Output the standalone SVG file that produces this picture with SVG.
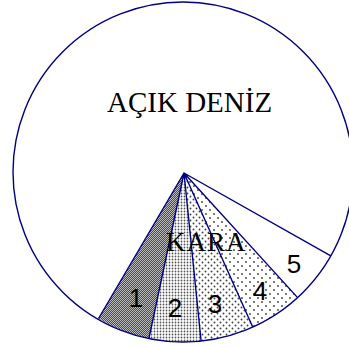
<svg xmlns="http://www.w3.org/2000/svg" width="349" height="347" viewBox="0 0 349 347">
<style>
.ln{stroke:#000080;stroke-width:1.4;fill:none;stroke-linejoin:round}
.ser{font-family:"Liberation Serif","Times New Roman",serif;fill:#000}
.num{font-family:"Liberation Sans",Arial,sans-serif;font-size:26px;fill:#000;text-anchor:middle}
</style>
<defs>
<pattern id="p1" width="2" height="2" patternUnits="userSpaceOnUse">
<rect width="2" height="2" fill="#4a4a4a"/>
<rect width="1" height="1" fill="#bcbcbc"/>
<rect x="1" y="1" width="1" height="1" fill="#bcbcbc"/>
</pattern>
<pattern id="p2" width="3" height="3" patternUnits="userSpaceOnUse">
<rect width="3" height="3" fill="#fff"/>
<circle cx="1.5" cy="1.5" r="0.9" fill="#555"/>
</pattern>
<pattern id="p3" width="6" height="6" patternUnits="userSpaceOnUse">
<rect width="6" height="6" fill="#fff"/>
<circle cx="1.5" cy="1.5" r="0.95" fill="#444"/>
<circle cx="4.5" cy="4.5" r="0.95" fill="#444"/>
</pattern>
<pattern id="p4" width="8" height="8" patternUnits="userSpaceOnUse">
<rect width="8" height="8" fill="#fff"/>
<circle cx="2" cy="2" r="0.95" fill="#444"/>
<circle cx="6" cy="6" r="0.95" fill="#444"/>
</pattern>
</defs>
<rect width="349" height="347" fill="#fff"/>
<g id="sea">
<text class="ser" x="107" y="112" font-size="29">AÇIK DENİZ</text>
</g>
<g id="sector1">
<path d="M184,173 L98.5,318.5 A170,170 0 0 0 148.9,338.6 Z" fill="url(#p1)"/>
</g>
<g id="sector2">
<path d="M184,173 L148.9,338.6 A170,170 0 0 0 201.1,341 Z" fill="url(#p2)"/>
</g>
<g id="sector3">
<path d="M184,173 L201.1,341 A170,170 0 0 0 252.7,327 Z" fill="url(#p3)"/>
</g>
<g id="sector4">
<path d="M184,173 L252.7,327 A170,170 0 0 0 297.6,297.6 Z" fill="url(#p4)"/>
</g>
<g id="sector5">
<path d="M184,173 L297.6,297.6 A170,170 0 0 0 330.8,255.9 Z" fill="#fff"/>
</g>
<g id="connectors">
<path class="ln" d="M98.5,318.5 L184,173 L148.9,338.6 M184,173 L201.1,341 M184,173 L252.7,327 M184,173 L297.6,297.6 M184,173 L330.8,255.9"/>
<circle class="ln" cx="183" cy="172" r="170"/>
</g>
<g id="labels">
<text class="ser" x="166" y="251" font-size="27" letter-spacing="1">KARA</text>
<text class="num" x="136" y="307">1</text>
<text class="num" x="175" y="317">2</text>
<text class="num" x="215" y="313">3</text>
<text class="num" x="260" y="300">4</text>
<text class="num" x="294" y="273">5</text>
</g>
</svg>
